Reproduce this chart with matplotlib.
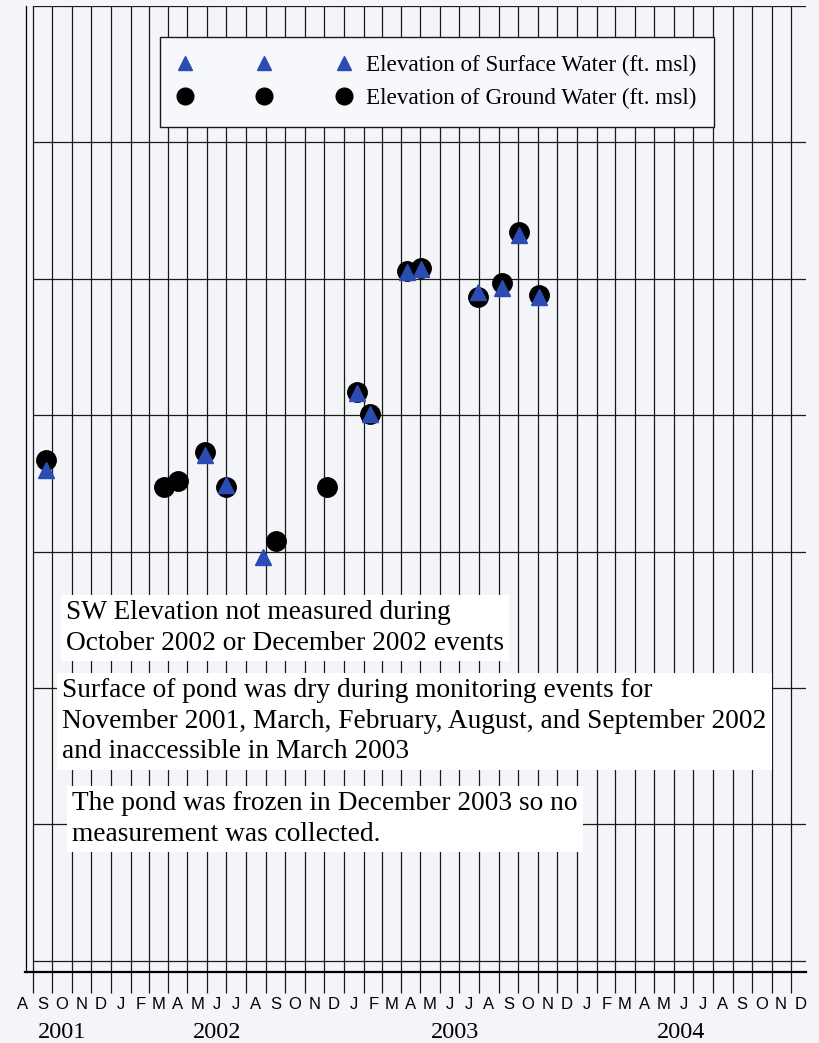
import matplotlib
matplotlib.use("Agg")
import matplotlib.pyplot as plt
import matplotlib.dates as mdates
import matplotlib.transforms as mtransforms
from matplotlib.lines import Line2D
import pandas as pd

# measurement dates and elevations (ft, relative to lowest gridline)
gw_dates = ["2001-09-21", "2002-03-25", "2002-04-16", "2002-05-29", "2002-06-30",
            "2002-09-16", "2002-12-06", "2003-01-22", "2003-02-11", "2003-04-10",
            "2003-05-02", "2003-07-30", "2003-09-05", "2003-10-02", "2003-11-03"]
gw_elev = [3.67, 3.47, 3.52, 3.73, 3.47, 3.08, 3.47, 4.17, 4.01, 5.06,
           5.08, 4.87, 4.97, 5.34, 4.88]

sw_dates = ["2001-09-21", "2002-05-29", "2002-06-30", "2002-08-27", "2003-01-22",
            "2003-02-11", "2003-04-10", "2003-05-02", "2003-07-30", "2003-09-05",
            "2003-10-02", "2003-11-03"]
sw_elev = [3.60, 3.71, 3.49, 2.96, 4.16, 4.01, 5.05, 5.07, 4.90, 4.93, 5.32, 4.87]

years = ["2001", "2002", "2003", "2004"]
year_pos = ["2001-10-16", "2002-06-16", "2003-06-24", "2004-06-13"]

notes = [
    "SW Elevation not measured during\nOctober 2002 or December 2002 events",
    "Surface of pond was dry during monitoring events for\n"
    "November 2001, March, February, August, and September 2002\n"
    "and inaccessible in March 2003",
    "The pond was frozen in December 2003 so no\nmeasurement was collected.",
]

gw_dates = pd.to_datetime(gw_dates)
sw_dates = pd.to_datetime(sw_dates)

W, H = 819, 1043
fig = plt.figure(figsize=(W / 100, H / 100), dpi=100, facecolor="#f3f5f9")

def fx(px):
    return px / W

def fy(py):
    return 1 - py / H

ax = fig.add_axes([fx(26), fy(972), fx(806) - fx(26), fy(6) - fy(972)])
ax.set_facecolor("none")

xmin = pd.Timestamp("2001-08-21")
xmax = pd.Timestamp("2004-12-25")
ax.set_xlim(xmin, xmax)
ax.set_ylim(-0.082, 7.0)

# month grid
month_starts = pd.date_range("2001-09-01", "2004-12-01", freq="MS")
for d in month_starts:
    ax.axvline(d, color="#1a1a1a", lw=0.9, zorder=1)
ax.hlines(range(0, 8), month_starts[0], xmax, color="#1a1a1a", lw=0.9, zorder=1)

for s in ["top", "right"]:
    ax.spines[s].set_visible(False)
ax.spines["left"].set_linewidth(0.9)
ax.spines["bottom"].set_linewidth(1.6)
ax.spines["bottom"].set_bounds(mdates.date2num(pd.Timestamp("2001-08-20")),
                               mdates.date2num(xmax))

ax.set_yticks([])
ax.set_xticks(month_starts)
ax.set_xticklabels([])
ax.tick_params(axis="x", length=15, width=0.9, color="#1a1a1a")

# month letters and years under the axis
trans = mtransforms.blended_transform_factory(ax.transData, ax.transAxes)
mids = pd.date_range("2001-08-01", "2004-12-01", freq="MS") + pd.Timedelta(days=15)
for d in mids:
    ax.text(d, -0.034, d.strftime("%b")[0], transform=trans, ha="center", va="center",
            fontsize=12, family="Liberation Sans", clip_on=False)
for y, p in zip(years, year_pos):
    ax.text(pd.Timestamp(p), -0.063, y, transform=trans, ha="center", va="center",
            fontsize=17.5, family="Liberation Serif", clip_on=False)

blue = "#2b4cb3"
ax.plot(gw_dates, gw_elev, "o", color="black", ms=14, zorder=3, clip_on=False)
ax.plot(sw_dates, sw_elev, "^", color=blue, ms=12, mec=blue, zorder=4, clip_on=False)

handles = [Line2D([], [], ls="none", marker="^", color=blue, ms=10),
           Line2D([], [], ls="none", marker="o", color="black", ms=12)]
leg = ax.legend(handles, ["Elevation of Surface Water (ft. msl)",
                          "Elevation of Ground Water (ft. msl)"],
                loc="upper left", bbox_to_anchor=((160 - 26) / 780, 1 - 31 / 966),
                bbox_transform=ax.transAxes, borderaxespad=0,
                numpoints=3, handlelength=7.46, handletextpad=0.65,
                labelspacing=0.52, borderpad=0.76,
                prop={"family": "Liberation Serif", "size": 16.7},
                fancybox=False, framealpha=1, edgecolor="#1a1a1a")
leg.get_frame().set_linewidth(1.0)
leg.get_frame().set_facecolor("#f7f8fb")
leg.set_zorder(6)

note_xy = [(66, 600), (62, 678), (72, 791)]
for (x, y), txt in zip(note_xy, notes):
    fig.text(fx(x), fy(y), txt, ha="left", va="top", fontsize=19.7,
             family="Liberation Serif", linespacing=1.3, zorder=10,
             bbox=dict(facecolor="white", edgecolor="none", pad=4))

fig.savefig("out.png", dpi=100, facecolor=fig.get_facecolor())
